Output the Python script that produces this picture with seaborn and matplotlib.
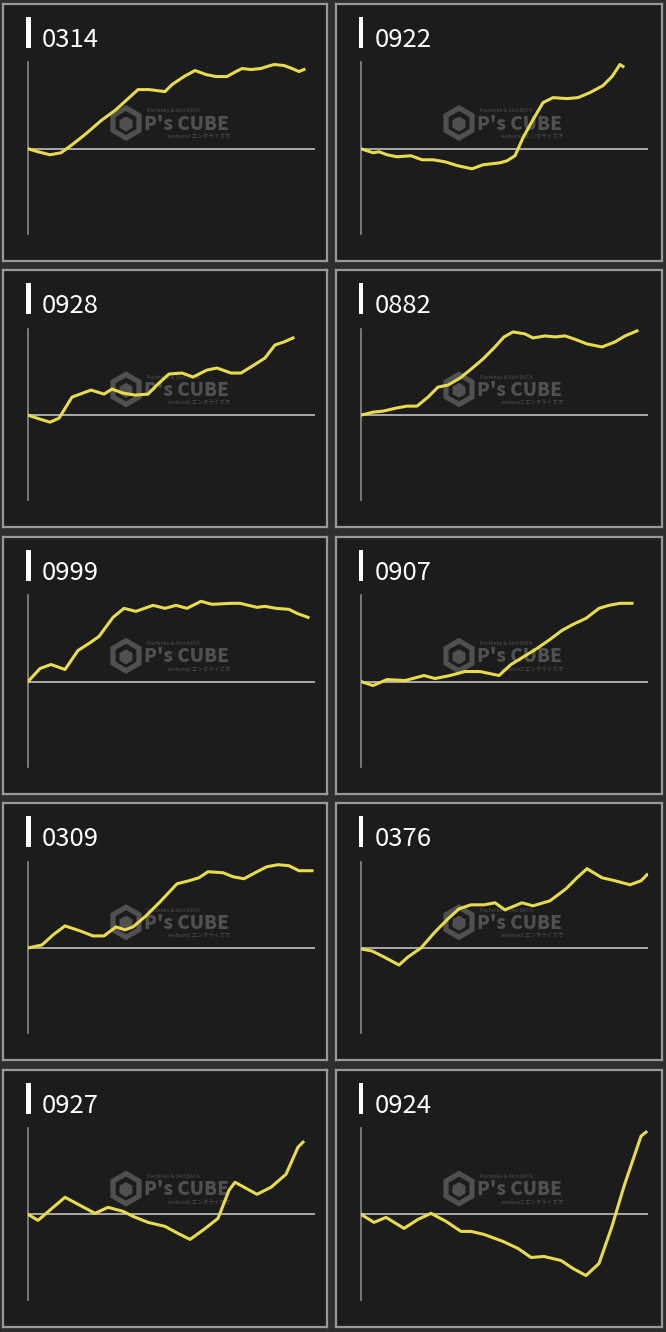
import seaborn as sns
import matplotlib.pyplot as plt
from matplotlib.patches import Rectangle, RegularPolygon

# machine numbers shown on each panel
titles = ['0314', '0922', '0928', '0882', '0999', '0907', '0309', '0376', '0927', '0924']

# slump data (x = progress through the day, y = balance)
x_0314 = [0, 10, 22, 33, 44, 58, 73, 88, 99, 110, 121, 137, 144, 156, 167, 178, 188, 199, 208, 214, 223, 233, 239, 246, 256, 264, 271, 276]
y_0314 = [0, -3, -6, -4, 4, 15, 28, 39, 49, 59, 59, 57, 64, 72, 78, 74, 72, 72, 77, 80, 79, 80, 82, 84, 83, 80, 77, 79]

x_0922 = [0, 12, 18, 26, 36, 50, 61, 72, 84, 97, 111, 122, 139, 146, 154, 162, 172, 182, 192, 206, 217, 229, 242, 251, 259, 262]
y_0922 = [0, -4, -3, -6, -8, -7, -11, -11, -13, -17, -20, -16, -14, -12, -7, 11, 29, 46, 51, 50, 51, 56, 63, 72, 84, 82]

x_0928 = [0, 12, 22, 31, 44, 63, 76, 84, 95, 107, 120, 131, 141, 154, 165, 179, 189, 203, 213, 226, 237, 247, 256, 265]
y_0928 = [0, -4, -7, -3, 18, 25, 21, 26, 22, 20, 21, 32, 41, 42, 38, 45, 47, 42, 42, 50, 57, 70, 73, 77]

x_0882 = [0, 12, 22, 35, 46, 56, 67, 77, 87, 99, 109, 122, 133, 143, 152, 164, 172, 184, 194, 204, 213, 226, 241, 254, 264, 276]
y_0882 = [0, 3, 4, 7, 9, 9, 18, 28, 30, 37, 45, 56, 67, 78, 83, 81, 77, 79, 78, 79, 76, 71, 68, 73, 79, 84]

x_0999 = [0, 12, 23, 37, 50, 61, 71, 85, 96, 108, 125, 137, 148, 159, 173, 184, 203, 212, 229, 237, 248, 261, 269, 280]
y_0999 = [0, 13, 17, 12, 31, 38, 45, 64, 73, 70, 76, 73, 76, 73, 80, 77, 78, 78, 74, 75, 73, 72, 68, 64]

x_0907 = [0, 12, 26, 44, 63, 74, 89, 104, 119, 138, 150, 163, 176, 189, 201, 212, 225, 238, 248, 259, 271]
y_0907 = [0, -4, 2, 1, 6, 3, 6, 10, 10, 6, 17, 25, 33, 42, 51, 57, 63, 73, 76, 78, 78]

x_0309 = [0, 14, 25, 37, 52, 65, 76, 88, 97, 105, 118, 133, 149, 161, 171, 180, 195, 205, 216, 229, 239, 250, 261, 271, 284]
y_0309 = [0, 3, 13, 22, 17, 12, 12, 21, 18, 21, 32, 47, 64, 67, 70, 76, 75, 71, 69, 76, 81, 83, 82, 77, 77]

x_0376 = [0, 11, 23, 38, 47, 60, 74, 87, 98, 110, 123, 134, 144, 161, 172, 189, 205, 216, 226, 241, 254, 269, 280, 286]
y_0376 = [-1, -3, -9, -17, -9, 0, 16, 29, 39, 43, 43, 45, 38, 45, 42, 47, 59, 70, 79, 70, 67, 63, 67, 73]

x_0927 = [0, 10, 24, 37, 52, 67, 80, 95, 105, 120, 137, 150, 162, 176, 190, 201, 207, 218, 229, 243, 258, 270, 275]
y_0927 = [0, -6, 6, 17, 9, 1, 7, 3, -2, -8, -12, -19, -25, -15, -4, 24, 32, 26, 20, 27, 40, 67, 72]

x_0924 = [0, 13, 25, 43, 57, 70, 85, 100, 110, 123, 142, 157, 170, 183, 200, 212, 225, 238, 251, 263, 280, 285]
y_0924 = [0, -8, -3, -14, -5, 1, -7, -17, -17, -20, -27, -34, -43, -42, -46, -54, -61, -49, -12, 28, 78, 82]

series = [(x_0314, y_0314), (x_0922, y_0922), (x_0928, y_0928), (x_0882, y_0882),
          (x_0999, y_0999), (x_0907, y_0907), (x_0309, y_0309), (x_0376, y_0376),
          (x_0927, y_0927), (x_0924, y_0924)]

plt.rcParams['font.family'] = ['Noto Sans CJK JP', 'DejaVu Sans']

W, H = 666, 1332
BG = '#2e2e2e'
PANEL = '#1c1c1c'
YELLOW = '#e8dc4c'
MARK = '#505050'

fig = plt.figure(figsize=(W / 100, H / 100), dpi=100, facecolor=BG)


def frac(left, top, w, h):
    # pixel box -> figure fraction
    return [left / W, 1 - (top + h) / H, w / W, h / H]


col_left = [3, 336]
col_w = [324, 326]
panel_h = 257

for i, (title, (xs, ys)) in enumerate(zip(titles, series)):
    r, c = divmod(i, 2)
    left = col_left[c]
    top = 4 + 266.4 * r
    pw = col_w[c]

    # panel background, frame, title and watermark (pixel coords)
    bg = fig.add_axes(frac(left, top, pw, panel_h))
    bg.set_facecolor(PANEL)
    bg.set_xlim(0, pw)
    bg.set_ylim(panel_h, 0)
    bg.set_xticks([])
    bg.set_yticks([])
    for s in bg.spines.values():
        s.set_color('#999999')
        s.set_linewidth(1.6)

    bg.add_patch(Rectangle((23, 13), 4.5, 31, color='white', lw=0))
    bg.text(38.5, 43, title, color='white', fontsize=18.5, va='baseline', ha='left')

    bg.add_patch(RegularPolygon((123, 119), 6, radius=18, color=MARK, lw=0))
    bg.add_patch(RegularPolygon((123, 119), 6, radius=12, color=PANEL, lw=0))
    bg.add_patch(RegularPolygon((123, 120), 6, radius=7.5, color=MARK, lw=0))
    bg.text(141, 120, "P's CUBE", color=MARK, fontsize=13.5, fontweight='heavy',
            va='center', ha='left')
    bg.text(144, 107, 'Pachinko & Slot DATA', color=MARK, fontsize=3.8,
            va='center', ha='left')
    bg.text(165, 133, 'webure2 エンタライズオ', color=MARK, fontsize=4,
            va='center', ha='left')

    # slump graph
    ax = fig.add_axes(frac(left + 25, top + 58.5, 287, 171.5))
    ax.patch.set_alpha(0)
    ax.axhline(0, color='#b4b4b4', lw=1.3, zorder=1)
    sns.lineplot(x=xs, y=ys, ax=ax, color=YELLOW, linewidth=2.2, zorder=3)
    ax.set_xlim(0, 287)
    ax.set_ylim(-85, 86)
    ax.set_xticks([])
    ax.set_yticks([])
    for side in ['top', 'right', 'bottom']:
        ax.spines[side].set_visible(False)
    ax.spines['left'].set_color('#8a8a8a')
    ax.spines['left'].set_linewidth(1.2)

fig.savefig('out.png', dpi=100, facecolor=BG)
